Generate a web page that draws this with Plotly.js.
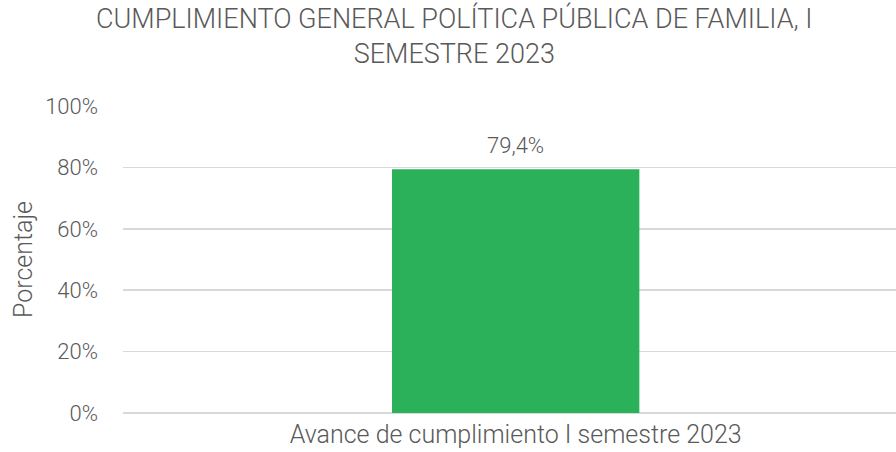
<!DOCTYPE html>
<html><head><meta charset="utf-8">
<script src="https://cdn.plot.ly/plotly-3.0.1.min.js"></script>
<style>html,body{margin:0;padding:0;background:#fff}#chart{width:896px;height:452px}</style>
</head><body><div id="chart"></div>
<script>
const categories = ["Avance de cumplimiento I semestre 2023"];
const values = [0.794];
const labels = ["79,4%"];
const yTickVals = [0, 0.2, 0.4, 0.6, 0.8, 1.0];
const yTickText = ["0%", "20%", "40%", "60%", "80%", "100%"];

const FONT = "Roboto, 'Noto Sans', sans-serif";
const GREY = "#595959";
const trace = {
  type: "bar",
  x: categories,
  y: values,
  marker: {color: "#2AB15A"},
  hoverinfo: "none"
};
const layout = {
  width: 896, height: 452,
  separators: ",.",
  margin: {l: 123, r: 0, t: 106, b: 39},
  paper_bgcolor: "#fff", plot_bgcolor: "#fff",
  bargap: 0.68,
  showlegend: false,
  title: {
    text: "CUMPLIMIENTO GENERAL POLÍTICA PÚBLICA DE FAMILIA, I<br>SEMESTRE 2023",
    font: {family: FONT, size: 27, color: GREY, weight: 300},
    x: 0.507, xanchor: "center", y: 0.938, yanchor: "middle"
  },
  xaxis: {
    range: [-0.508, 0.492],
    showgrid: false, zeroline: false, showline: false,
    tickfont: {family: FONT, size: 25, color: GREY, weight: 300},
    ticks: "", ticklabelstandoff: 4
  },
  yaxis: {
    range: [0, 1.0], tickvals: yTickVals, ticktext: yTickText,
    showgrid: true, gridcolor: "#d9d9d9", gridwidth: 1.5,
    zeroline: true, zerolinecolor: "#d9d9d9", zerolinewidth: 1.5,
    showline: false, ticks: "", ticklabelstandoff: 24,
    tickfont: {family: FONT, size: 22, color: GREY, weight: 300},
    title: {text: "Porcentaje", font: {family: FONT, size: 25, color: GREY, weight: 300}, standoff: 5}
  },
  annotations: categories.map((c, i) => ({
    x: c, y: values[i], text: labels[i], showarrow: false,
    xanchor: "center", yanchor: "bottom", yshift: 9,
    font: {family: FONT, size: 22, color: GREY, weight: 300}
  }))
};
Plotly.newPlot("chart", [trace], layout, {displayModeBar: false, staticPlot: true});
</script></body></html>
